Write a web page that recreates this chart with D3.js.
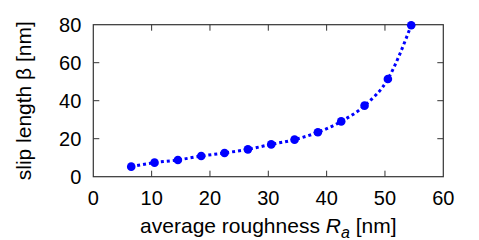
<!DOCTYPE html>
<html>
<head>
<meta charset="utf-8">
<script src="https://cdn.jsdelivr.net/npm/d3@7"></script>
<style>
  body { margin: 0; background: #fff; }
  text { font-family: "Liberation Sans", Arial, sans-serif; fill: #000; }
</style>
</head>
<body>
<div id="vis"></div>
<script>
const roughness = [6.5, 10.5, 14.5, 18.5, 22.5, 26.5, 30.5, 34.5, 38.5, 42.5, 46.5, 50.5, 54.5];
const slipLength = [5.3, 7.4, 8.8, 10.9, 12.5, 14.4, 17.0, 19.5, 23.4, 29.1, 37.4, 51.4, 79.7];
const xTicks = [0, 10, 20, 30, 40, 50, 60];
const yTicks = [0, 20, 40, 60, 80];

const W = 479, H = 240;
const margin = {top: 24.7, right: 35.7, bottom: 63.3, left: 93.3};
const width = W - margin.left - margin.right;
const height = H - margin.top - margin.bottom;

const svg = d3.select("#vis").append("svg")
    .attr("width", W)
    .attr("height", H);

const g = svg.append("g")
    .attr("transform", `translate(${margin.left},${margin.top})`);

const x = d3.scaleLinear().domain([0, 60]).range([0, width]);
const y = d3.scaleLinear().domain([0, 80]).range([height, 0]);

const tickLen = 6;
const frame = "#333";

// inward ticks on all four sides
g.selectAll(".xtb").data(xTicks.slice(1, -1)).join("line")
    .attr("x1", d => x(d)).attr("x2", d => x(d))
    .attr("y1", height).attr("y2", height - tickLen)
    .attr("stroke", frame);
g.selectAll(".xtt").data(xTicks.slice(1, -1)).join("line")
    .attr("x1", d => x(d)).attr("x2", d => x(d))
    .attr("y1", 0).attr("y2", tickLen)
    .attr("stroke", frame);
g.selectAll(".ytl").data(yTicks.slice(1, -1)).join("line")
    .attr("x1", 0).attr("x2", tickLen)
    .attr("y1", d => y(d)).attr("y2", d => y(d))
    .attr("stroke", frame);
g.selectAll(".ytr").data(yTicks.slice(1, -1)).join("line")
    .attr("x1", width).attr("x2", width - tickLen)
    .attr("y1", d => y(d)).attr("y2", d => y(d))
    .attr("stroke", frame);

g.append("rect")
    .attr("width", width).attr("height", height)
    .attr("fill", "none").attr("stroke", frame).attr("stroke-width", 1.2);

// tick labels
g.selectAll(".xl").data(xTicks).join("text")
    .attr("x", d => x(d)).attr("y", height + 28)
    .attr("text-anchor", "middle")
    .attr("font-size", 20)
    .text(d => d);
g.selectAll(".yl").data(yTicks).join("text")
    .attr("x", -12).attr("y", d => y(d) + 7)
    .attr("text-anchor", "end")
    .attr("font-size", 20)
    .text(d => d);

// axis titles
const xt = g.append("text")
    .attr("x", width / 2).attr("y", height + 56)
    .attr("text-anchor", "middle")
    .attr("font-size", 21);
xt.append("tspan").text("average roughness ");
xt.append("tspan").attr("font-style", "italic").text("R");
xt.append("tspan").attr("font-style", "italic").attr("font-size", 16).attr("dy", 5).text("a");
xt.append("tspan").attr("dy", -5).text(" [nm]");

svg.append("text")
    .attr("transform", `translate(31,${margin.top + height / 2}) rotate(-90)`)
    .attr("text-anchor", "middle")
    .attr("font-size", 21)
    .text("slip length β [nm]");

// data
const pts = roughness.map((r, i) => [r, slipLength[i]]);
const line = d3.line()
    .x(d => x(d[0])).y(d => y(d[1]))
    .curve(d3.curveMonotoneX);

g.append("path")
    .datum(pts)
    .attr("d", line)
    .attr("fill", "none")
    .attr("stroke", "#0000ff")
    .attr("stroke-width", 3)
    .attr("stroke-dasharray", "3,3");

g.selectAll("circle").data(pts).join("circle")
    .attr("cx", d => x(d[0])).attr("cy", d => y(d[1]))
    .attr("r", 4.3)
    .attr("fill", "#0000ff");
</script>
</body>
</html>
